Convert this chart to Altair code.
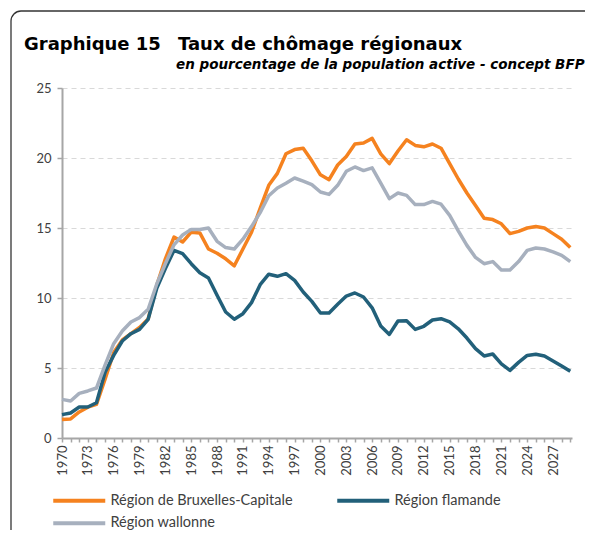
import altair as alt
import pandas as pd

years = list(range(1970, 2030))
series_names = ["Région de Bruxelles-Capitale", "Région flamande", "Région wallonne"]
colors = ["#F5821F", "#22607A", "#A7B0BE"]

bxl = [1.33, 1.36, 1.86, 2.2, 2.4,
       4.2, 6.1, 7.0, 7.45, 7.9,
       8.5, 10.9, 12.8, 14.35, 14.0,
       14.7, 14.65, 13.5, 13.2, 12.8,
       12.3, 13.5, 14.7, 16.4, 18.05,
       18.9, 20.3, 20.6, 20.7, 19.8,
       18.8, 18.45, 19.5, 20.1, 21.0,
       21.07, 21.4, 20.3, 19.6, 20.5,
       21.3, 20.9, 20.8, 21.0, 20.7,
       19.6, 18.5, 17.5, 16.6, 15.7,
       15.6, 15.3, 14.6, 14.76, 15.0,
       15.1, 15.0, 14.6, 14.2, 13.6]
vla = [1.67, 1.79, 2.21, 2.21, 2.52,
       4.7, 5.9, 6.93, 7.45, 7.76,
       8.48, 10.7, 12.1, 13.4, 13.17,
       12.45, 11.8, 11.43, 10.2, 9.0,
       8.48, 8.88, 9.67, 10.95, 11.7,
       11.55, 11.74, 11.26, 10.43, 9.76,
       8.93, 8.93, 9.55, 10.14, 10.36,
       10.07, 9.3, 8.0, 7.4, 8.36,
       8.38, 7.76, 7.98, 8.43, 8.52,
       8.29, 7.8, 7.14, 6.38, 5.86,
       6.0, 5.3, 4.83, 5.4, 5.9,
       5.98, 5.86, 5.5, 5.14, 4.76]
wal = [2.76, 2.64, 3.19, 3.36, 3.57,
       5.2, 6.74, 7.64, 8.29, 8.6,
       9.2, 11.0, 12.45, 13.8, 14.5,
       14.9, 14.9, 15.0, 14.05, 13.6,
       13.5, 14.2, 15.1, 16.1, 17.3,
       17.86, 18.2, 18.57, 18.35, 18.1,
       17.57, 17.4, 18.05, 19.05, 19.36,
       19.1, 19.3, 18.2, 17.1, 17.5,
       17.33, 16.67, 16.67, 16.9, 16.7,
       15.9, 14.8, 13.76, 12.9, 12.45,
       12.6, 12.0, 12.0, 12.6, 13.4,
       13.57, 13.5, 13.3, 13.05, 12.6]

title_num = "Graphique 15"
title_text = "Taux de chômage régionaux"
subtitle_text = "en pourcentage de la population active - concept BFP"

rows = []
for name, vals in zip(series_names, [bxl, vla, wal]):
    for yr, v in zip(years, vals):
        rows.append({"year": yr, "value": v, "series": name})
df = pd.DataFrame(rows)

W, H = 510, 350
axis_grey = "#A6A6A6"
txt = "#404040"
frame_col = "#333333"

x_enc = alt.X(
    "year:Q",
    scale=alt.Scale(domain=[1970, 2029.2], nice=False, zero=False),
    axis=alt.Axis(
        values=years,
        labelExpr="(datum.value - 1970) % 3 == 0 ? '' + datum.value : ''",
        labelAngle=-90, labelAlign="right", labelBaseline="middle",
        labelOverlap=False, labelFlush=False, labelPadding=3,
        labelFont="Lato", labelFontSize=13, labelColor=txt,
        domainColor=axis_grey, domainWidth=2,
        tickColor=axis_grey, tickSize=4, tickWidth=1.5,
        grid=False, title=None,
    ),
)
y_enc = alt.Y(
    "value:Q",
    scale=alt.Scale(domain=[0, 25], nice=False),
    axis=alt.Axis(
        values=[0, 5, 10, 15, 20, 25],
        labelFont="Lato", labelFontSize=13, labelColor=txt, labelPadding=6,
        domainColor=axis_grey, domainWidth=2,
        tickColor=axis_grey, tickSize=5, tickWidth=1.5,
        grid=True, gridColor="#D9D9D9", gridDash=[5, 4], gridWidth=1,
        title=None,
    ),
)
# wide flat line symbol: box is 10px, path runs from -5px to +47px
legend_symbol = "M -1 0 L 9.4 0"
color_enc = alt.Color(
    "series:N",
    scale=alt.Scale(domain=series_names, range=colors),
    legend=alt.Legend(
        orient="none", legendX=-11, legendY=405, direction="horizontal", columns=2,
        symbolType=legend_symbol, symbolSize=100, symbolStrokeWidth=4,
        labelFont="Lato", labelFontSize=14.5, labelColor=txt, labelOffset=45,
        labelLimit=0, columnPadding=36, rowPadding=6, title=None,
    ),
)

base = alt.Chart(df)
lines = [
    base.transform_filter(alt.datum.series == s)
    .mark_line(strokeWidth=3.5, strokeJoin="round")
    .encode(x=x_enc, y=y_enc, color=color_enc)
    for s in series_names
]

one = pd.DataFrame({"a": [0]})
left_border = alt.Chart(one).mark_rule(color=frame_col, strokeWidth=1.3).encode(
    x=alt.value(-51), y=alt.value(-67), y2=alt.value(445))
top_border = alt.Chart(one).mark_rule(color=frame_col, strokeWidth=1.3).encode(
    x=alt.value(-41), x2=alt.value(523), y=alt.value(-77))
corner = alt.Chart(one).mark_arc(
    theta=4.7124, theta2=6.2832, radius=10.65, radius2=9.35, color=frame_col
).encode(x=alt.value(-41), y=alt.value(-67))

t1 = alt.Chart(one).mark_text(
    text=title_num, font="DejaVu Sans", fontSize=18, fontWeight="bold",
    align="left", baseline="alphabetic", color="#000000"
).encode(x=alt.value(-38), y=alt.value(-38))
t2 = alt.Chart(one).mark_text(
    text=title_text, font="DejaVu Sans", fontSize=18, fontWeight="bold",
    align="left", baseline="alphabetic", color="#000000"
).encode(x=alt.value(116), y=alt.value(-38))
t3 = alt.Chart(one).mark_text(
    text=subtitle_text, font="DejaVu Sans", fontSize=13.5, fontWeight="bold",
    fontStyle="italic", align="left", baseline="alphabetic", color="#000000"
).encode(x=alt.value(114), y=alt.value(-19))

chart = alt.layer(*lines, left_border, top_border, corner, t1, t2, t3).properties(
    width=W, height=H,
    autosize=alt.AutoSizeParams(type="none"),
    padding={"left": 54, "top": 80, "right": 13, "bottom": 92},
).configure_view(stroke=None)

chart.save("out.html", embed_options={"renderer": "svg", "actions": False})
